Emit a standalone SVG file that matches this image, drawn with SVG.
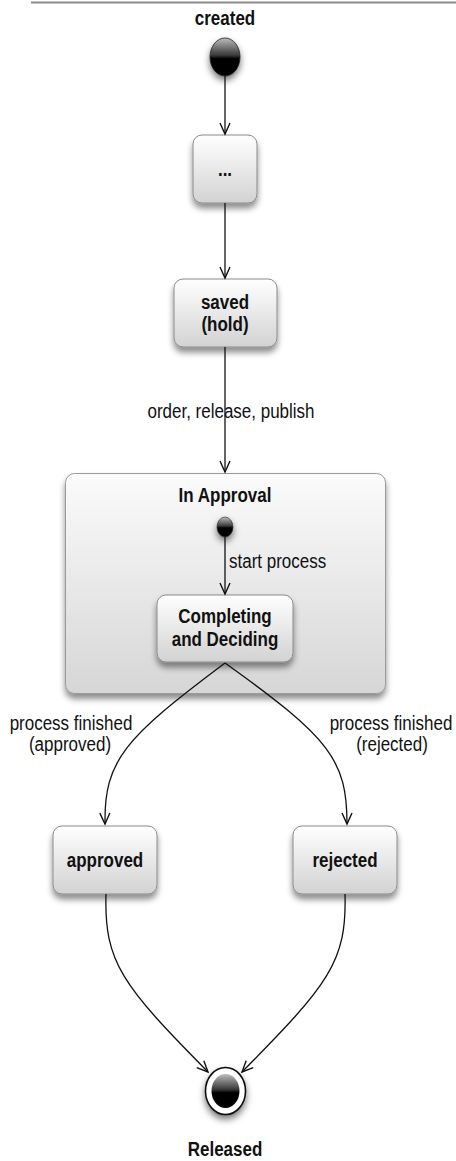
<svg xmlns="http://www.w3.org/2000/svg" width="456" height="1161" viewBox="0 0 456 1161">
<style>
text{font-family:"Liberation Sans",Arial,sans-serif;font-size:17px;fill:#111;}
.b{font-weight:bold;text-anchor:middle;}
.l{text-anchor:middle;}
.box{fill:url(#gNode);stroke:#8a8a8a;stroke-width:1;filter:url(#sh);}
.big{fill:url(#gBig);stroke:#9a9a9a;stroke-width:1;filter:url(#sh);}
.edge{fill:none;stroke:#111;stroke-width:1.3;marker-end:url(#arr);}
</style>
<defs>
<linearGradient id="gNode" x1="0" y1="0" x2="0" y2="1">
<stop offset="0" stop-color="#ffffff"/>
<stop offset="1" stop-color="#d2d2d2"/>
</linearGradient>
<linearGradient id="gBig" x1="0" y1="0" x2="0" y2="1">
<stop offset="0" stop-color="#fbfbfb"/>
<stop offset="1" stop-color="#d6d6d6"/>
</linearGradient>
<linearGradient id="gBall" x1="0" y1="0" x2="0" y2="1">
<stop offset="0" stop-color="#bdbdbd"/>
<stop offset="0.45" stop-color="#3a3a3a"/>
<stop offset="0.55" stop-color="#000"/>
<stop offset="1" stop-color="#000"/>
</linearGradient>
<filter id="sh" x="-20%" y="-20%" width="140%" height="150%">
<feDropShadow dx="0" dy="5" stdDeviation="3" flood-color="#000" flood-opacity="0.45"/>
</filter>
<filter id="shb" x="-60%" y="-60%" width="220%" height="220%">
<feDropShadow dx="0" dy="4" stdDeviation="3.5" flood-color="#000" flood-opacity="0.55"/>
</filter>
<marker id="arr" viewBox="-12 -7 14 14" refX="0" refY="0" markerWidth="14" markerHeight="14" markerUnits="userSpaceOnUse" orient="auto">
<path d="M-11,-5 L0,0 L-11,5" fill="none" stroke="#111" stroke-width="1.4"/>
</marker>
</defs>
<rect x="0" y="0" width="456" height="1161" fill="#fff"/>
<line x1="31" y1="2.5" x2="456" y2="2.5" stroke="#8c8c8c" stroke-width="2"/>

<g id="created">
<text class="b" transform="translate(225,25) scale(1,1.15)">created</text>
<ellipse cx="225" cy="57" rx="15" ry="19" fill="url(#gBall)" stroke="#222" stroke-width="0.8" filter="url(#shb)"/>
</g>

<g id="dots">
<rect class="box" x="193" y="135" width="64" height="68" rx="9"/>
<text class="b" transform="translate(225,176) scale(1,1.15)">...</text>
</g>

<g id="saved">
<rect class="box" x="174" y="279" width="103" height="68" rx="9"/>
<text class="b" transform="translate(225,309) scale(1,1.15)">saved</text>
<text class="b" transform="translate(225,331) scale(1,1.15)">(hold)</text>
</g>

<g id="inApproval">
<rect class="big" x="65.5" y="473.5" width="320" height="220" rx="9"/>
<text class="b" transform="translate(225,502) scale(1,1.15)">In Approval</text>
<ellipse cx="225" cy="527" rx="8" ry="10" fill="url(#gBall)" stroke="#222" stroke-width="0.6" filter="url(#shb)"/>
</g>

<g id="completing">
<rect class="box" x="157" y="595" width="136" height="67" rx="9"/>
<text class="b" transform="translate(225,623) scale(1,1.15)">Completing</text>
<text class="b" transform="translate(225,646) scale(1,1.15)">and Deciding</text>
</g>

<g id="approved">
<rect class="box" x="53" y="826" width="104" height="68" rx="9"/>
<text class="b" transform="translate(105,867) scale(1,1.15)">approved</text>
</g>

<g id="rejected">
<rect class="box" x="293" y="826" width="104" height="68" rx="9"/>
<text class="b" transform="translate(345,867) scale(1,1.15)">rejected</text>
</g>

<g id="released">
<ellipse cx="225.5" cy="1091" rx="20" ry="23.5" fill="#fff" stroke="#111" stroke-width="1.6" filter="url(#shb)"/>
<ellipse cx="225.5" cy="1091" rx="14" ry="17" fill="url(#gBall)"/>
<text class="b" transform="translate(225,1156) scale(1,1.15)">Released</text>
</g>

<g id="connectors">
<path class="edge" d="M225,76 L225,134"/>
<path class="edge" d="M225,203 L225,278"/>
<path class="edge" d="M225,347 L225,472"/>
<path class="edge" d="M225,537 L225,594"/>
<path class="edge" d="M225,663 C125,738 104,760 105,824"/>
<path class="edge" d="M225,663 C330,738 347,760 347,824"/>
<path class="edge" d="M106,894 C104,962 122,985 208,1072"/>
<path class="edge" d="M345,894 C347,962 328,985 242,1072"/>
<text class="l" transform="translate(231,418) scale(1,1.15)">order, release, publish</text>
<text transform="translate(229,568) scale(1,1.15)">start process</text>
<text class="l" transform="translate(71,730) scale(1,1.15)">process finished</text>
<text class="l" transform="translate(70,751) scale(1,1.15)">(approved)</text>
<text class="l" transform="translate(391,730) scale(1,1.15)">process finished</text>
<text class="l" transform="translate(392,751) scale(1,1.15)">(rejected)</text>
</g>
</svg>
